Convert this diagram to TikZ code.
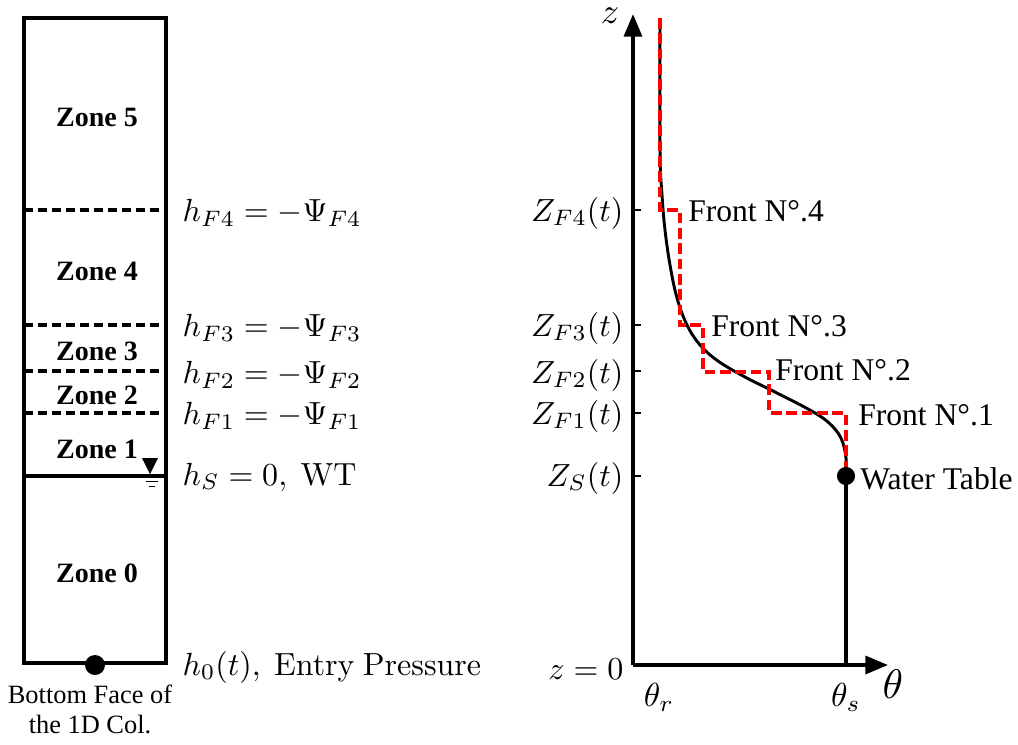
\documentclass[tikz,border=0pt]{standalone}
\usepackage[no-math]{fontspec}
\setmainfont{Liberation Serif}
\usetikzlibrary{arrows.meta}
\begin{document}
\begin{tikzpicture}[x=0.75pt,y=-0.75pt,
  colline/.style={line width=3pt},
  zonelab/.style={font=\fontsize{21}{25}\selectfont\bfseries, inner sep=0},
  mlab/.style={font=\fontsize{10}{12}\selectfont, scale=2.4, anchor=west, inner sep=0},
  zlab/.style={font=\fontsize{10}{12}\selectfont, scale=2.4, anchor=east, inner sep=0},
  txtlab/.style={font=\fontsize{23.7}{28}\selectfont, anchor=west, inner sep=0},
  zdash/.style={line width=2.4pt, dash pattern=on 7pt off 3.5pt},
  reddash/.style={red, line width=2.6pt, dash pattern=on 8pt off 3.5pt},
  axis/.style={line width=2.6pt, -{Triangle[length=17pt,width=13.5pt]}},
  tick/.style={line width=1pt}]
\useasboundingbox (0,0) rectangle (1018,744);

% ---------- left column ----------
\coordinate (TL) at (24,18);
\coordinate (BR) at (166,663);
\draw[colline] (TL) rectangle (BR);
\foreach \y/\n in {210/4,325/3,371/2,413/1}{
  \coordinate (dl\n) at (24,\y);
  \coordinate (dr\n) at (166,\y);
  \draw[zdash] (dl\n) -- (dr\n);
}
\coordinate (wl) at (24,476);
\coordinate (wr) at (166,476);
\draw[colline] (wl) -- (wr);
% water table symbol
\coordinate (wt) at (150,474);
\fill (wt) -- ++(-8,-16) -- ++(16,0) -- cycle;
\coordinate (wa1) at (146,481); \coordinate (wa2) at (158,481);
\coordinate (wb1) at (149,486); \coordinate (wb2) at (155,486);
\draw[line width=0.7pt] (wa1) -- (wa2);
\draw[line width=0.7pt] (wb1) -- (wb2);
% bottom dot
\fill (95,665) circle[radius=7.5pt];

\node[zonelab] (z5) at (97,117) {Zone 5};
\node[zonelab] (z4) at (97,271) {Zone 4};
\node[zonelab] (z3) at (97,351) {Zone 3};
\node[zonelab] (z2) at (97,395) {Zone 2};
\node[zonelab] (z1) at (97,449) {Zone 1};
\node[zonelab] (z0) at (97,573) {Zone 0};

\node[mlab] (h4) at (182,213) {$h_{F4}=-\Psi_{F4}$};
\node[mlab] (h3) at (182,328) {$h_{F3}=-\Psi_{F3}$};
\node[mlab] (h2) at (182,375) {$h_{F2}=-\Psi_{F2}$};
\node[mlab] (h1) at (182,416) {$h_{F1}=-\Psi_{F1}$};
\node[mlab] (hs) at (182,477) {$h_S=0,\ \mathrm{WT}$};
\node[mlab] (h0) at (182,667) {$h_0(t),\ \mathrm{Entry\ Pressure}$};

\node[font=\fontsize{19.8}{22.5}\selectfont, align=center, inner sep=0] (bf) at (90,709) {Bottom Face of\\the 1D Col.};

% ---------- right plot ----------
\coordinate (O) at (633,665);
\coordinate (ztop) at (633,14);
\coordinate (thend) at (888,665);

% ticks
\foreach \y/\n in {210/4,325/3,371/2,413/1,476/S}{
  \coordinate (t\n) at (633,\y);
  \draw[tick] (t\n) -- ++(8,0);
}

% theta_s line
\coordinate (wtd) at (846,476);
\coordinate (wtb) at (846,665);
\draw[line width=2.6pt] (wtd) -- (wtb);

% black profile
\draw[line width=2.2pt] plot[smooth, tension=0.6] coordinates {
 (660,18) (660,150) (662,195) (665,230) (670,265) (677,298) (687,325)
 (700,345) (718,361) (745,377) (775,392) (808,409) (828,422) (841,438) (846,458) (846,476)};

% red step profile
\draw[reddash] (660,18) -- (660,210) -- (680,210) -- (680,325) -- (703,325)
  -- (703,372) -- (769,372) -- (769,413) -- (846,413) -- (846,476);

\draw[axis] (O) -- (ztop);
\draw[axis] (O) -- (thend);

\fill (wtd) circle[radius=6.8pt];

\node[zlab] (zf4) at (624,213) {$Z_{F4}(t)$};
\node[zlab] (zf3) at (624,328) {$Z_{F3}(t)$};
\node[zlab] (zf2) at (624,375) {$Z_{F2}(t)$};
\node[zlab] (zf1) at (624,416) {$Z_{F1}(t)$};
\node[zlab] (zs) at (624,478) {$Z_{S}(t)$};
\node[zlab] (z0l) at (624,669) {$z=0$};

\node[font=\fontsize{10}{12}\selectfont, scale=2.7, inner sep=0] (zax) at (610,16) {$z$};
\node[font=\fontsize{10}{12}\selectfont, scale=3.1, inner sep=0] (thax) at (893,684) {$\theta$};
\node[font=\fontsize{10}{12}\selectfont, scale=2.5, inner sep=0] (thr) at (659,697) {$\theta_r$};
\node[font=\fontsize{10}{12}\selectfont, scale=2.5, inner sep=0] (ths) at (846,697) {$\theta_s$};

\node[txtlab] (f4) at (688,211) {Front N°.4};
\node[txtlab] (f3) at (711,326) {Front N°.3};
\node[txtlab] (f2) at (775,370) {Front N°.2};
\node[txtlab] (f1) at (858,415) {Front N°.1};
\node[txtlab] (wtl) at (860,479) {Water Table};
\end{tikzpicture}
\end{document}
